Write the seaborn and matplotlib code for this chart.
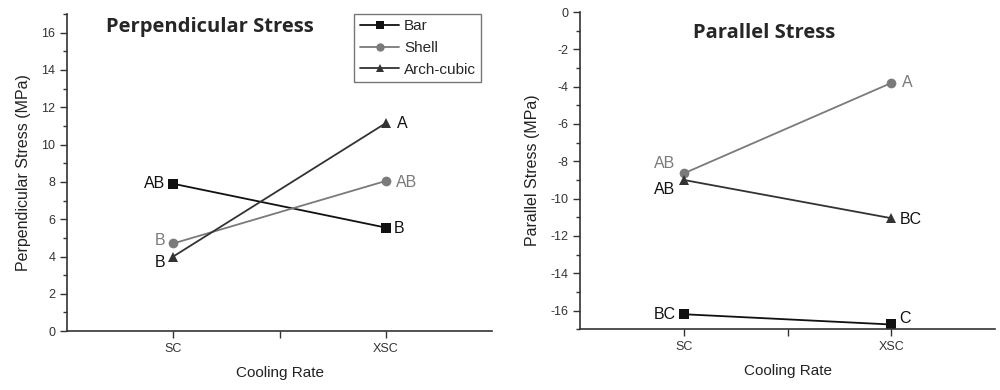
import numpy as np
import pandas as pd
import seaborn as sns
from matplotlib import pyplot as plt
from matplotlib.ticker import MultipleLocator

# data
rates = ['SC', 'XSC']
series = ['Bar', 'Shell', 'Arch-cubic']

perp_bar = [7.9, 5.55]
perp_shell = [4.7, 8.05]
perp_arch = [4.0, 11.15]
perp_letters = {'Bar': ['AB', 'B'], 'Shell': ['B', 'AB'], 'Arch-cubic': ['B', 'A']}

par_bar = [-16.2, -16.75]
par_shell = [-8.65, -3.8]
par_arch = [-9.0, -11.05]
par_letters = {'Bar': ['BC', 'C'], 'Shell': ['AB', 'A'], 'Arch-cubic': ['AB', 'BC']}

colors = {'Bar': '#111111', 'Shell': '#7a7a7a', 'Arch-cubic': '#333333'}
markers = {'Bar': 's', 'Shell': 'o', 'Arch-cubic': '^'}


def make_df(bar, shell, arch):
    """ Long form frame for seaborn."""
    rows = []
    for name, vals in zip(series, [bar, shell, arch]):
        for r, v in zip(rates, vals):
            rows.append({'rate': r, 'stress': v, 'type': name})
    return pd.DataFrame(rows)


def draw_panel(ax, df, letters, offsets, ylim, ylabel, title, title_xy):
    df = df.copy()
    df['pos'] = df['rate'].map({r: i for i, r in enumerate(rates)})
    sns.lineplot(data=df, x='pos', y='stress', hue='type', style='type',
                 palette=colors, markers=markers, dashes=False,
                 markersize=7, linewidth=1.3, markeredgewidth=0,
                 legend=False, ax=ax)
    for name in series:
        sub = df[df['type'] == name]
        for i, (p, v) in enumerate(zip(sub['pos'], sub['stress'])):
            dx, dy, ha = offsets[name][i]
            ax.annotate(letters[name][i], (p, v), xytext=(dx, dy),
                        textcoords='offset points', ha=ha, va='center',
                        fontsize=11.5, color=colors[name] if name == 'Shell' else '#111111')
    ax.set_xlim(-0.5, 1.5)
    ax.set_ylim(*ylim)
    ax.set_xticks([0, 0.5, 1])
    ax.set_xticklabels(['SC', '', 'XSC'])
    ax.yaxis.set_major_locator(MultipleLocator(2))
    ax.yaxis.set_minor_locator(MultipleLocator(1))
    ax.set_xlabel('Cooling Rate', fontsize=11, labelpad=8, color='#222222')
    ax.set_ylabel(ylabel, fontsize=11.5, color='#222222', labelpad=7)
    ax.tick_params(axis='both', which='major', direction='out', length=5,
                   width=1, labelsize=9, colors='#333333')
    ax.tick_params(axis='y', which='minor', direction='out', length=3, width=1,
                   colors='#333333')
    for s in ['left', 'bottom']:
        ax.spines[s].set_color('#333333')
        ax.spines[s].set_linewidth(1.2)
    sns.despine(ax=ax)
    ax.text(title_xy[0], title_xy[1], title, transform=ax.transAxes,
            fontsize=14.5, fontweight='bold', family='Open Sans', va='center', ha='center')


sns.set_theme(style='ticks')
plt.rcParams['font.family'] = ['Liberation Sans', 'DejaVu Sans']
plt.rcParams['axes.unicode_minus'] = False

fig = plt.figure(figsize=(10, 3.9), dpi=100)
ax1 = fig.add_axes([0.067, 0.151, 0.425, 0.813])
ax2 = fig.add_axes([0.580, 0.156, 0.415, 0.813])

perp_off = {'Bar': [(-6, 0, 'right'), (6, -1, 'left')],
            'Shell': [(-6, 2, 'right'), (7, -1, 'left')],
            'Arch-cubic': [(-6, -4, 'right'), (8, 0, 'left')]}
draw_panel(ax1, make_df(perp_bar, perp_shell, perp_arch), perp_letters, perp_off,
           (0, 17), 'Perpendicular Stress (MPa)', 'Perpendicular Stress', (0.337, 0.96))

par_off = {'Bar': [(-6, 0, 'right'), (6, 4, 'left')],
           'Shell': [(-6, 7, 'right'), (8, 0, 'left')],
           'Arch-cubic': [(-6, -7, 'right'), (6, -1, 'left')]}
draw_panel(ax2, make_df(par_bar, par_shell, par_arch), par_letters, par_off,
           (-17, 0), 'Parallel Stress (MPa)', 'Parallel Stress', (0.443, 0.935))

# legend on the left panel
handles = [plt.Line2D([], [], color=colors[n], marker=markers[n], markersize=6,
                      markeredgewidth=0, linewidth=1.3) for n in series]
leg = ax1.legend(handles, series, loc='upper right', bbox_to_anchor=(0.975, 1.0),
                 fontsize=11, frameon=True, fancybox=False, handlelength=2.6,
                 borderpad=0.35, labelspacing=0.5, handletextpad=0.3,
                 borderaxespad=0.0)
leg.get_frame().set_edgecolor('#555555')
leg.get_frame().set_linewidth(1.0)

plt.savefig('out.png', dpi=100)
